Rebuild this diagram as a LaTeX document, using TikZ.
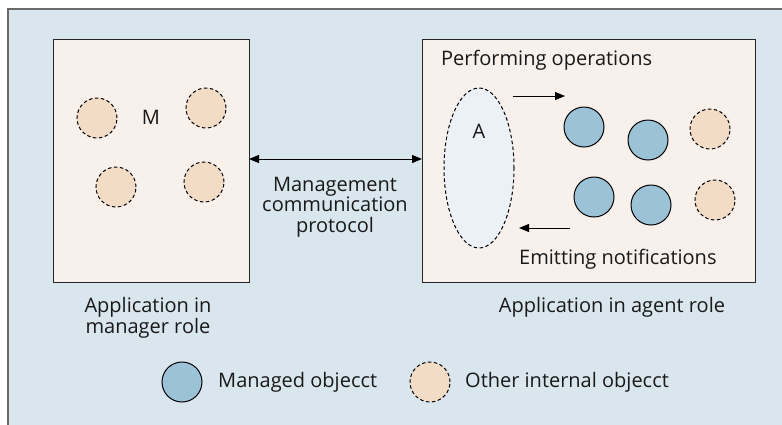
\documentclass[tikz,border=0pt]{standalone}
\usepackage{fontspec}
\setmainfont{Open Sans}
\usetikzlibrary{arrows.meta,shapes.geometric}
\definecolor{bgblue}{HTML}{DAE6EE}
\definecolor{boxfill}{HTML}{F7F0EB}
\definecolor{peach}{HTML}{F2DCC6}
\definecolor{mblue}{HTML}{9BC2D6}
\definecolor{ellfill}{HTML}{EBF1F6}
\definecolor{frame}{HTML}{6A6A6A}
\tikzset{
  appbox/.style={draw=black!85, line width=1pt, fill=boxfill},
  otherobj/.style={circle, draw=black, dashed, dash pattern=on 3.5pt off 2.5pt, line width=1pt, fill=peach, minimum size=40pt, inner sep=0pt},
  managedobj/.style={circle, draw=black, line width=1pt, fill=mblue, minimum size=40pt, inner sep=0pt},
  lbl/.style={font=\fontsize{20}{20.5}\selectfont, text=black!90, inner sep=0pt, align=center},
  arr/.style={-{Triangle[length=10pt,width=8pt]}, line width=1pt},
}
\begin{document}
\begin{tikzpicture}[x=1pt,y=-1pt]
\useasboundingbox (0,0) rectangle (782,424);
\begin{scope}
\clip (0,0) rectangle (782,424);
\fill[white] (0,0) rectangle (782,424);
\draw[draw=frame, line width=1.4pt, fill=bgblue] (8,9) rectangle (800,440);
\end{scope}
% manager box
\node[appbox, minimum width=196pt, minimum height=243pt, anchor=north west, inner sep=0pt] (mgr) at (53,39) {};
\node[otherobj] (m1) at (97,118) {};
\node[otherobj] (m2) at (206,108) {};
\node[otherobj] (m3) at (116,187) {};
\node[otherobj] (m4) at (204,182) {};
\node[lbl] (M) at (151,117) {M};
% agent box
\node[appbox, minimum width=333pt, minimum height=243pt, anchor=north west, inner sep=0pt] (agt) at (422,39) {};
\node[lbl, anchor=west] (perf) at (441,60) {Performing operations};
\node[ellipse, draw=black, dashed, dash pattern=on 3.5pt off 2.5pt, line width=1pt, fill=ellfill, minimum width=70pt, minimum height=160pt, inner sep=0pt] (A) at (479,168) {};
\node[lbl] (Alab) at (479,131) {A};
\node[managedobj] (b1) at (584,127) {};
\node[managedobj] (b2) at (648,140) {};
\node[managedobj] (b3) at (594,197) {};
\node[managedobj] (b4) at (651,205) {};
\node[otherobj] (o1) at (710,129) {};
\node[otherobj] (o2) at (715,200) {};
\coordinate (pa1) at (513,96);
\coordinate (pa2) at (565,96);
\draw[arr] (pa1) -- (pa2);
\coordinate (ea1) at (570,228);
\coordinate (ea2) at (519,228);
\draw[arr] (ea1) -- (ea2);
\node[lbl, anchor=west] (emit) at (519,259) {Emitting notifications};
% protocol arrow
\coordinate (p1) at (249,159);
\coordinate (p2) at (422,159);
\draw[{Triangle[length=10pt,width=8pt]}-{Triangle[length=10pt,width=8pt]}, line width=1pt] (p1) -- (p2);
\node[lbl] (proto) at (335,207) {Management\\communication\\protocol};
% captions
\node[lbl] (mcap) at (148,318) {Application in\\manager role};
\node[lbl] (acap) at (612,307) {Application in agent role};
% legend
\node[managedobj] (lg1) at (182,382) {};
\node[lbl, anchor=west] (lg1t) at (218,382) {Managed objecct};
\node[otherobj] (lg2) at (430,382) {};
\node[lbl, anchor=west] (lg2t) at (465,382) {Other internal objecct};
\end{tikzpicture}
\end{document}
